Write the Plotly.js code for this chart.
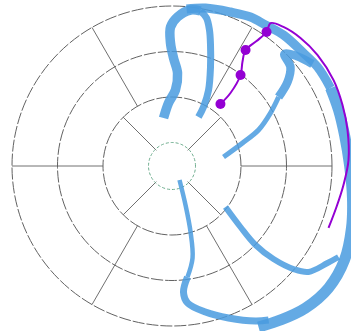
<!DOCTYPE html>
<html><head><meta charset="utf-8">
<script src="https://cdn.plot.ly/plotly-3.0.1.min.js"></script>
<style>html,body{margin:0;padding:0;background:#fff;overflow:hidden}
#wrap{position:relative;width:351px;height:331px;overflow:hidden}
#chart{position:absolute;left:-43px;top:-49px;width:430px;height:430px}</style>
</head><body><div id="wrap"><div id="chart"></div></div>
<script>
// Loop stream (left / top)
const loopR = [0.555,0.870,1.156,1.531,1.857,2.187,2.538,2.760,2.936,2.947,2.824,2.584,2.275,1.818,1.336,0.954,0.708];
const loopTheta = [100.0,93.2,87.4,86.6,89.2,90.7,90.6,87.9,83.2,79.6,76.9,74.6,72.35,68.75,64.3,61.9,61.6];
// Outer stream, top part
const outerTopR = [2.949,3.033,3.104,3.185,3.202,3.264,3.294,3.352,3.367];
const outerTopTheta = [84.7,78.0,69.2,62.2,56.45,49.6,40.7,34.2,26.2];
// Outer stream, right / bottom part
const outerLowR = [3.367,3.345,3.336,3.385,3.512,3.657,3.801,3.845,3.767,3.624,3.501];
const outerLowTheta = [26.2,18.6,10.2,0.3,-10.05,-19.05,-28.6,-37.9,-46.8,-54.8,-61.75];
// Stream from the hole downward
const southR = [-0.167,0.391,0.990,1.555,1.947,2.264,2.514,2.776,3.048,3.353,3.478];
const southTheta = [-61.8,-70.9,-74.3,-77.4,-82.05,-84.8,-83.5,-77.1,-69.6,-61.7,-57.9];
// Stream to lower right
const southEastR = [0.965,1.499,2.010,2.509,2.985,3.282,3.512,3.654];
const southEastTheta = [-37.5,-41.7,-43.4,-42.5,-40.3,-37.8,-31.95,-28.65];
// Stream to upper right
const northEastR = [0.633,1.114,1.543,1.942,2.273,2.622,2.877,2.972,3.134,3.299];
const northEastTheta = [9.9,18.1,22.6,28.3,32.9,36.0,39.9,44.9,41.5,36.0];
// Purple path
const pathR = [1.213,1.539,1.987,2.245,2.501,2.800,3.088,3.299,3.400,3.470,3.506,3.505,3.464,3.421,3.365,3.275,3.209,3.183];
const pathTheta = [52.0,51.3,53.0,55.9,57.6,55.9,54.8,55.4,51.3,44.9,37.3,28.0,19.7,11.6,1.9,-6.3,-14.0,-21.6];
const markerIdx = [0,2,4,6];

const blue = 'rgba(73,155,223,0.85)';
function ribbon(r, theta, w, a, b){
  return {type:'scatterpolar', subplot:'polar3', r:r.slice(a, b), theta:theta.slice(a, b), mode:'lines',
    line:{color:blue, width:w, shape:'spline', smoothing:1}, cliponaxis:false, hoverinfo:'skip'};
}
const data = [
  // empty traces that only make the two grid subplots exist
  {type:'scatterpolar', subplot:'polar', r:[null], theta:[null], mode:'lines', hoverinfo:'skip'},
  {type:'scatterpolar', subplot:'polar2', r:[null], theta:[null], mode:'lines', hoverinfo:'skip'},
  ribbon(loopR, loopTheta, 9.5, 0, 10),
  ribbon(loopR, loopTheta, 7, 9),
  ribbon(outerTopR, outerTopTheta, 9),
  ribbon(outerLowR, outerLowTheta, 11),
  ribbon(southR, southTheta, 4.5, 0, 5),
  ribbon(southR, southTheta, 7, 4),
  ribbon(southEastR, southEastTheta, 6),
  ribbon(northEastR, northEastTheta, 5, 0, 5),
  ribbon(northEastR, northEastTheta, 8.5, 4),
  {type:'scatterpolar', subplot:'polar3', r:pathR, theta:pathTheta, mode:'lines',
   line:{color:'#9400d3', width:2, shape:'spline', smoothing:1}, cliponaxis:false},
  {type:'scatterpolar', subplot:'polar3', r:markerIdx.map(i=>pathR[i]), theta:markerIdx.map(i=>pathTheta[i]),
   mode:'markers', marker:{color:'#9400d3', size:10}, cliponaxis:false}
];

const S = 430, C = 215;           // paper size and centre
const hidden = {showticklabels:false, ticks:'', showline:false};
const dom = R => [(C-R)/S, (C+R)/S];
const layout = {
  width:S, height:S, margin:{l:0,r:0,t:0,b:0},
  paper_bgcolor:'#fff', showlegend:false,
  polar:{
    domain:{x:dom(160), y:dom(160)},
    hole:69/160, bgcolor:'rgba(0,0,0,0)',
    radialaxis:{visible:false, range:[1,3]},
    angularaxis:Object.assign({tickmode:'array', tickvals:[0,60,120,180,240,300], showgrid:true, gridcolor:'#707070', gridwidth:1}, hidden)
  },
  polar2:{
    domain:{x:dom(69), y:dom(69)},
    hole:22.135/69, bgcolor:'rgba(0,0,0,0)',
    radialaxis:Object.assign({range:[-0.03,1], tickmode:'array', tickvals:[0], showgrid:true, gridcolor:'#6fae8f', griddash:'3px,2px', gridwidth:1}, hidden),
    angularaxis:Object.assign({tickmode:'array', tickvals:[45,135,225,315], showgrid:true, gridcolor:'#707070', gridwidth:1}, hidden)
  },
  polar3:{
    domain:{x:[0,1], y:[0,1]},
    bgcolor:'rgba(0,0,0,0)',
    radialaxis:Object.assign({range:[-23.5/45.5, -23.5/45.5 + C/45.5], tickmode:'array', tickvals:[1,2,3], showgrid:true, gridcolor:'#626262', griddash:'12px,2px', gridwidth:1}, hidden),
    angularaxis:Object.assign({showgrid:false}, hidden)
  }
};
Plotly.newPlot('chart', data, layout, {displayModeBar:false, staticPlot:true});
</script>
</body></html>
